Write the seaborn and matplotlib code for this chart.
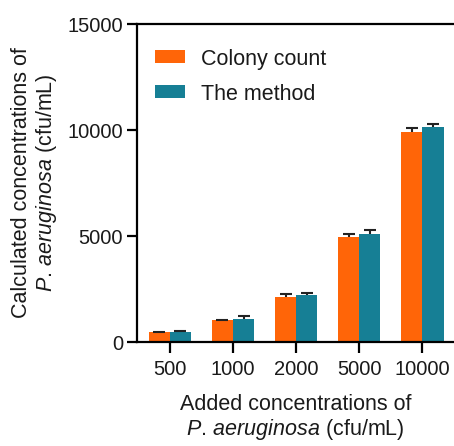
import matplotlib
matplotlib.use("Agg")
import matplotlib.pyplot as plt
import seaborn as sns
import pandas as pd
import numpy as np
from matplotlib.container import BarContainer

categories = ["500", "1000", "2000", "5000", "10000"]
series_names = ["Colony count", "The method"]
colony_count = [480, 1040, 2110, 4970, 9920]
the_method = [490, 1090, 2200, 5080, 10140]
colony_err = [0, 20, 140, 110, 190]
method_err = [30, 150, 110, 190, 150]
yticks = [0, 5000, 10000, 15000]

colors = ["#FF6508", "#167F95"]

sns.set_theme(style="white")
plt.rcParams["font.family"] = ["Liberation Sans", "DejaVu Sans"]
plt.rcParams["mathtext.fontset"] = "custom"
plt.rcParams["mathtext.rm"] = "Liberation Sans"
plt.rcParams["mathtext.it"] = "Liberation Sans:italic"

df = pd.DataFrame({
    "cat": categories * 2,
    "series": [series_names[0]] * 5 + [series_names[1]] * 5,
    "value": colony_count + the_method,
})

fig = plt.figure(figsize=(4.54, 4.46), dpi=100)
ax = fig.add_axes([137 / 454, 1 - 342 / 446, 1 - 137 / 454, (342 - 24) / 446])

sns.barplot(data=df, x="cat", y="value", hue="series", order=categories,
            hue_order=series_names, palette=colors, width=0.67,
            errorbar=None, saturation=1, ax=ax, linewidth=0)

errs = [colony_err, method_err]
vals = [colony_count, the_method]
bar_conts = [c for c in ax.containers if isinstance(c, BarContainer)]
for i, cont in enumerate(bar_conts):
    xs = [p.get_x() + p.get_width() / 2 for p in cont.patches]
    _, caps, _ = ax.errorbar(xs, vals[i], yerr=[np.zeros(len(xs)), errs[i]],
                             fmt="none", ecolor="#222222", elinewidth=1.5,
                             capsize=4, capthick=1.5)
    if len(caps) == 2:
        caps[0].set_visible(False)

ax.set_ylim(0, 15000)
ax.set_xlim(-0.52, 4.5)
ax.set_yticks(yticks)
ax.set_yticklabels([str(t) for t in yticks])

for s in ["left", "top", "bottom"]:
    ax.spines[s].set_visible(True)
    ax.spines[s].set_color("black")
    ax.spines[s].set_linewidth(1.6)
ax.spines["right"].set_visible(False)

ax.tick_params(axis="both", which="major", direction="out", length=7, width=1.6,
               color="black", labelsize=14.5, labelcolor="#1a1a1a", pad=3,
               left=True, bottom=True)
ax.tick_params(axis="x", length=8, pad=5)

species = "$\\it{P.\\,aeruginosa}$ (cfu/mL)"
ax.set_xlabel("Added concentrations of\n" + species,
              fontsize=15.5, color="#1a1a1a", labelpad=11, linespacing=1.1)
ax.set_ylabel("Calculated concentrations of\n" + species,
              fontsize=15.5, color="#1a1a1a", labelpad=6, linespacing=1.1)

leg = ax.legend(loc="upper left", bbox_to_anchor=(0.03, 0.95), frameon=False,
                fontsize=15.5, handlelength=1.4, handleheight=0.55,
                handletextpad=0.75, labelspacing=0.65, borderaxespad=0)
for t in leg.get_texts():
    t.set_color("#1a1a1a")

fig.savefig("out.png", dpi=100)
